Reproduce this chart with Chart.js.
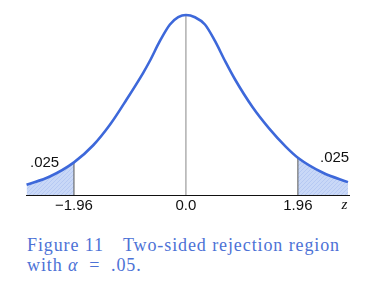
<!DOCTYPE html>
<html>
<head>
<meta charset="utf-8">
<script src="https://cdn.jsdelivr.net/npm/chart.js@4.4.1/dist/chart.umd.min.js"></script>
<style>
  html, body { margin: 0; padding: 0; background: #ffffff; }
  #wrap { position: relative; width: 376px; height: 296px; overflow: hidden; }
  #box { position: absolute; left: 0; top: 0; width: 376px; height: 225px; }
  .cap {
    position: absolute; left: 27px; margin: 0;
    font-family: "Liberation Serif", "DejaVu Serif", serif;
    font-size: 18px; line-height: 20px; color: #4d72d6; white-space: pre;
    letter-spacing: 0.9px;
  }
</style>
</head>
<body>
<div id="wrap">
  <div id="box"><canvas id="c" width="376" height="225"></canvas></div>
  <p class="cap" style="top:235px">Figure 11<span style="margin-left:19px">Two-sided rejection region</span></p>
  <p class="cap" style="top:255px">with <i>α</i>  =  .05.</p>
</div>
<script>
// ---- data ----
const curveZ = [-2.79, -2.382, -1.96, -1.623, -1.331, -1.039, -0.748, -0.630, -0.455, -0.280, -0.135, 0, 0.158, 0.333, 0.508, 0.683, 0.858, 1.168, 1.459, 1.751, 1.96, 2.399, 2.837];
const curveY = [0.0226, 0.0411, 0.0725, 0.1105, 0.1560, 0.2121, 0.2714, 0.2982, 0.3422, 0.3787, 0.3949, 0.4000, 0.3949, 0.3787, 0.3422, 0.2982, 0.2571, 0.1949, 0.1475, 0.1070, 0.0829, 0.0495, 0.0286];
const leftTailZ = [-2.79, -2.382, -1.96];
const leftTailY = [0.0226, 0.0411, 0.0725];
const rightTailZ = [1.96, 2.399, 2.837];
const rightTailY = [0.0829, 0.0495, 0.0286];
const criticalZ = [-1.96, 0, 1.96];
const tickLabels = ['\u22121.96', '0.0', '1.96'];
const tailAreaLabels = ['.025', '.025'];
const axisLabel = 'z';

const zip = (xs, ys) => xs.map((x, i) => ({ x: x, y: ys[i] }));

// hatched fill pattern for the rejection regions
const pattern = (function () {
  const p = document.createElement('canvas');
  p.width = 4; p.height = 4;
  const g = p.getContext('2d');
  g.fillStyle = '#c9d8f7';
  g.fillRect(0, 0, 4, 4);
  g.fillStyle = '#b6c9f3';
  g.fillRect(3, 0, 1, 1); g.fillRect(2, 1, 1, 1); g.fillRect(1, 2, 1, 1); g.fillRect(0, 3, 1, 1);
  return document.getElementById('c').getContext('2d').createPattern(p, 'repeat');
})();

const vline = (z, top, color) => ({
  data: [{ x: z, y: 0 }, { x: z, y: top }],
  borderColor: color, borderWidth: 1, pointRadius: 0, fill: false, tension: 0
});

const textPlugin = {
  id: 'texts',
  afterDraw(chart) {
    const ctx = chart.ctx;
    ctx.save();
    ctx.fillStyle = '#111';
    ctx.font = '15px "Liberation Sans", Arial, sans-serif';
    ctx.textBaseline = 'middle';
    ctx.textAlign = 'left';
    ctx.fillText(tailAreaLabels[0], 30, 163);
    ctx.fillText(tailAreaLabels[1], 320, 158);
    ctx.font = 'italic 15px "Liberation Serif", serif';
    ctx.textAlign = 'center';
    ctx.fillText(axisLabel, 344.5, 205);
    ctx.restore();
  }
};

const smooth = { cubicInterpolationMode: 'monotone' };

new Chart(document.getElementById('c'), {
  type: 'line',
  data: {
    datasets: [
      Object.assign({ data: zip(curveZ, curveY), borderColor: '#3d68da', borderWidth: 2.6, pointRadius: 0, fill: false }, smooth),
      vline(criticalZ[0], leftTailY[leftTailY.length - 1], '#555'),
      vline(criticalZ[1], curveY[curveZ.indexOf(0)], '#888'),
      vline(criticalZ[2], rightTailY[0], '#555'),
      Object.assign({ data: zip(leftTailZ, leftTailY), borderWidth: 0, pointRadius: 0, fill: 'origin', backgroundColor: pattern }, smooth),
      Object.assign({ data: zip(rightTailZ, rightTailY), borderWidth: 0, pointRadius: 0, fill: 'origin', backgroundColor: pattern }, smooth)
    ]
  },
  options: {
    responsive: false,
    animation: false,
    events: [],
    layout: { padding: { left: 26, right: 27, top: 8, bottom: 8 } },
    plugins: { legend: { display: false }, tooltip: { enabled: false } },
    scales: {
      x: {
        type: 'linear', min: -2.80, max: 2.855,
        grid: { display: false, drawTicks: false },
        border: { display: true, color: '#111', width: 1 },
        afterBuildTicks: s => { s.ticks = criticalZ.map(v => ({ value: v })); },
        ticks: {
          autoSkip: false, maxRotation: 0, padding: 2, color: '#111',
          font: { family: '"Liberation Sans", Arial, sans-serif', size: 15 },
          callback: (v) => tickLabels[criticalZ.indexOf(v)]
        }
      },
      y: { display: false, min: 0, max: 0.4154 }
    }
  },
  plugins: [textPlugin]
});
</script>
</body>
</html>
